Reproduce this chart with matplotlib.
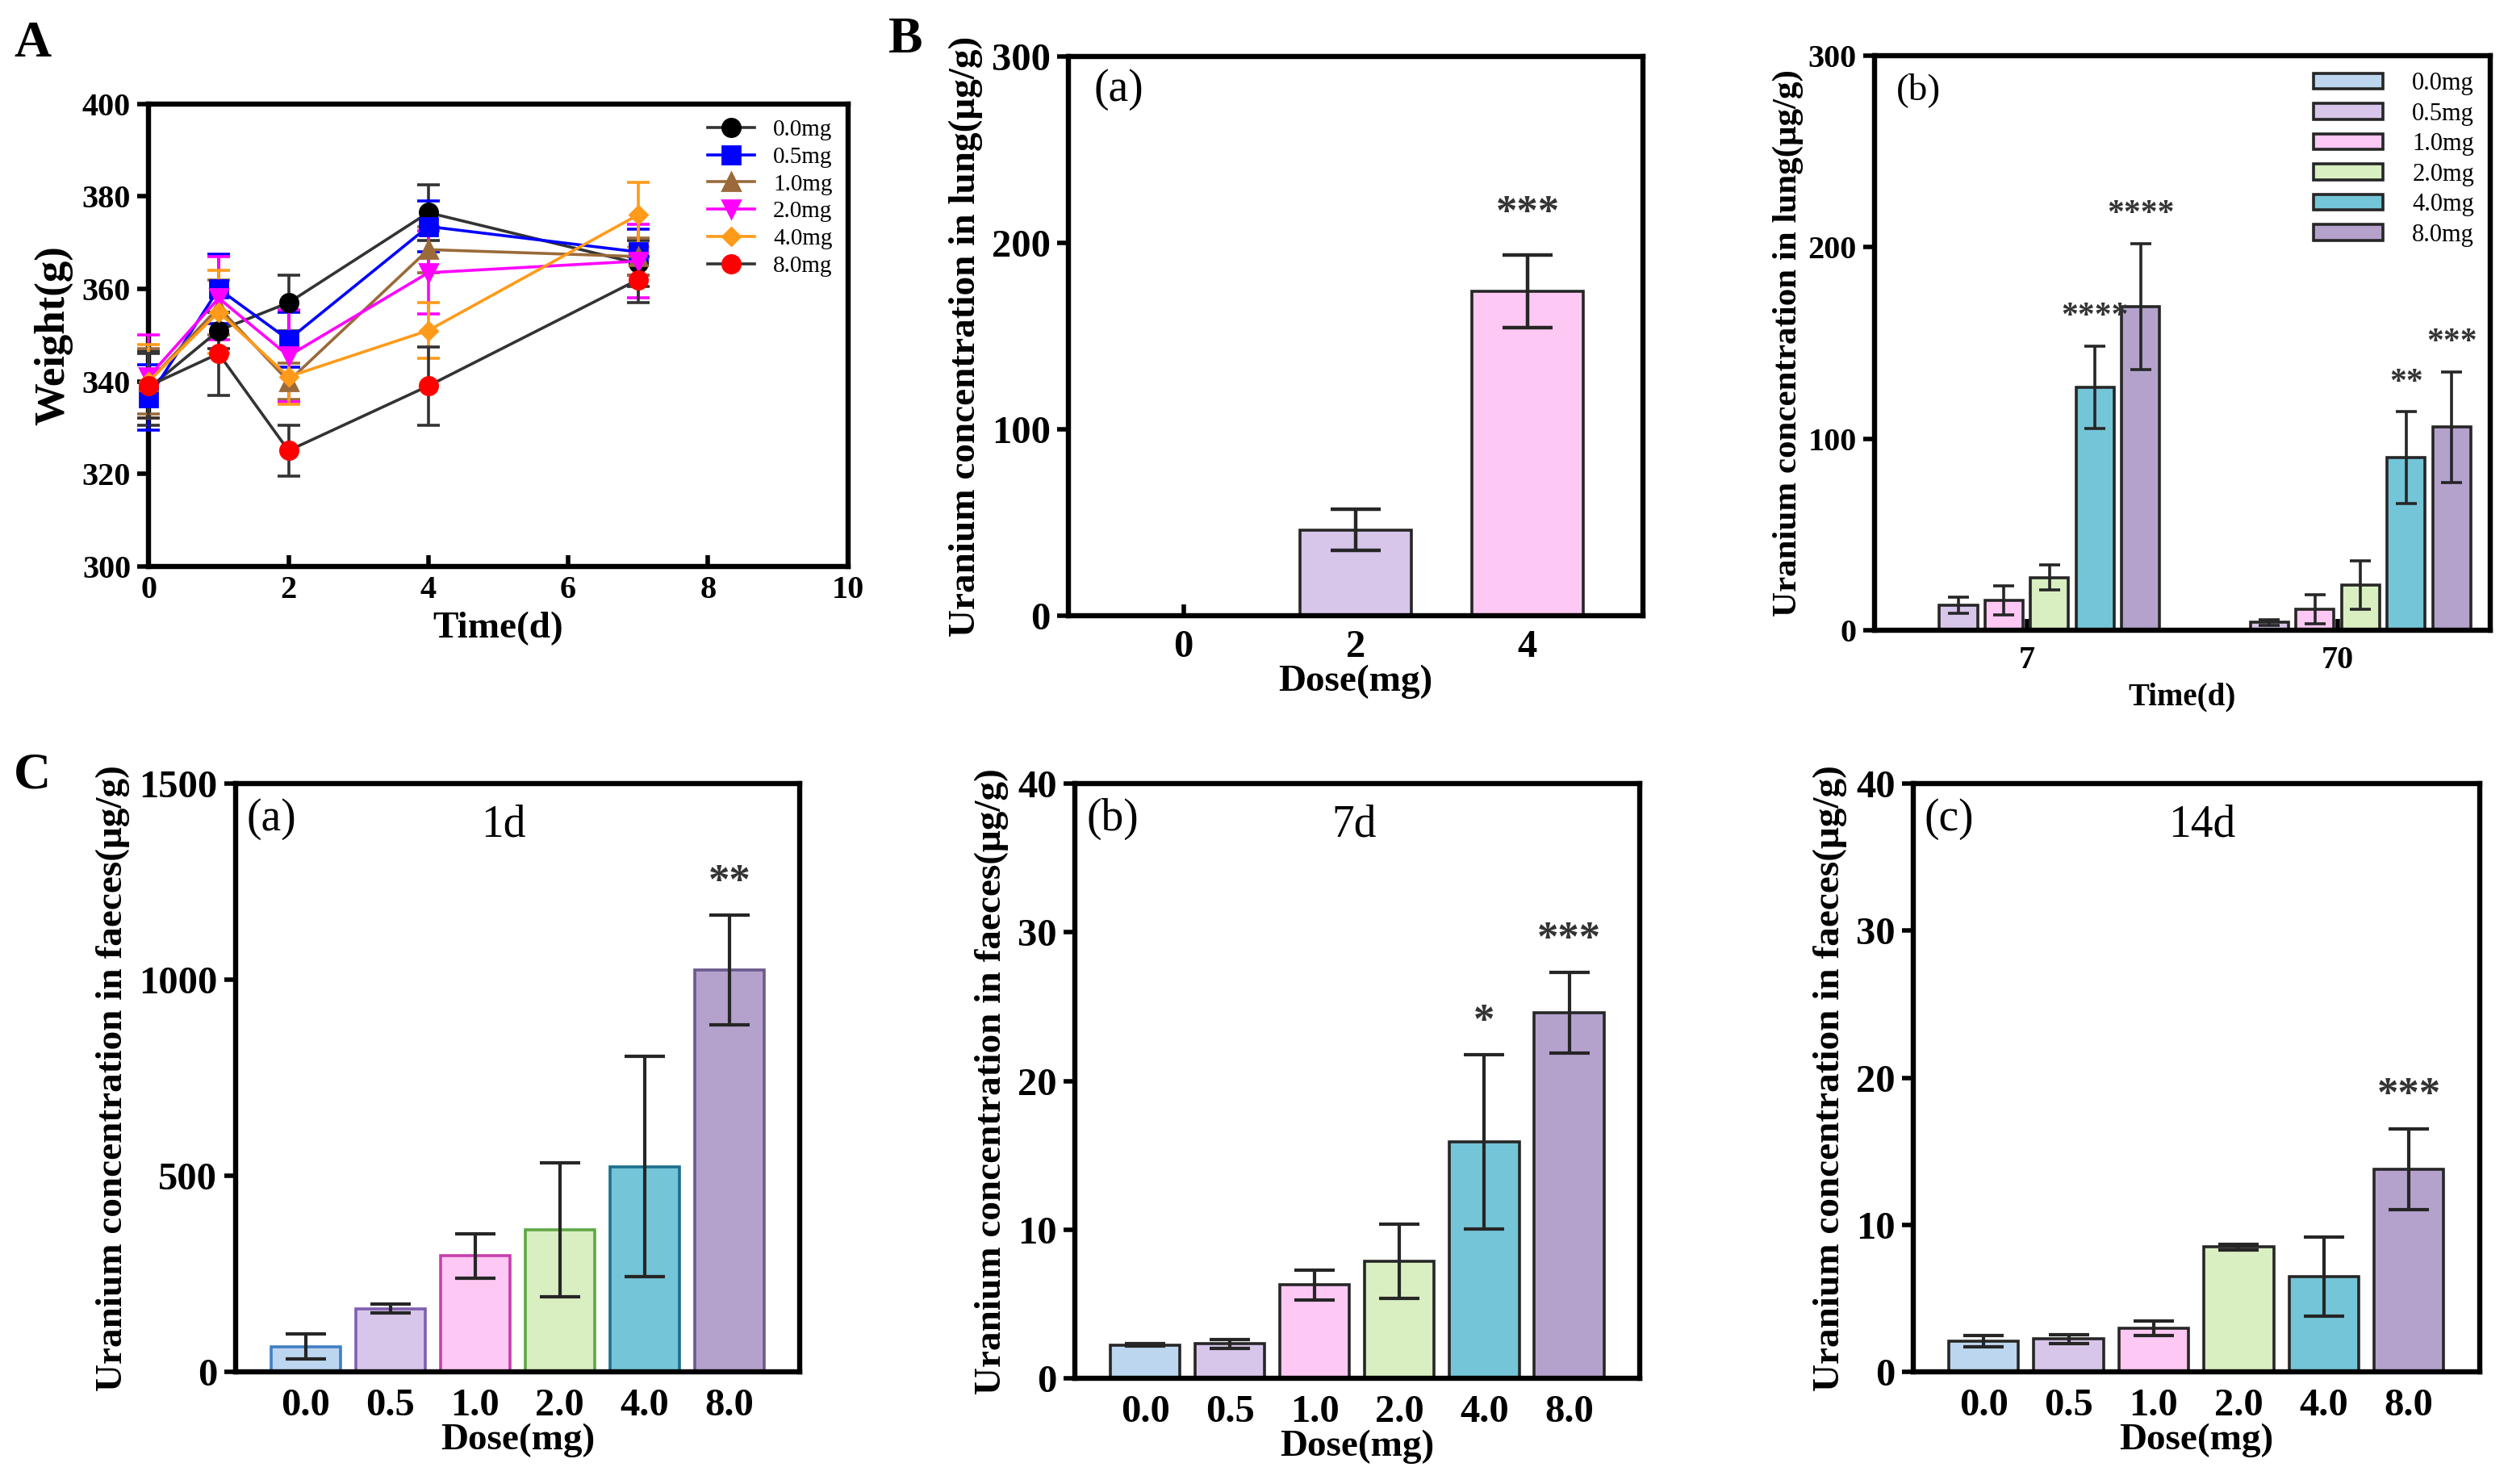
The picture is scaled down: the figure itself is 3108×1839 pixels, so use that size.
import matplotlib
matplotlib.use("Agg")
import matplotlib.pyplot as plt
import numpy as np
from matplotlib.patches import Patch
from matplotlib.lines import Line2D

plt.rcParams['font.family'] = ['Liberation Serif', 'DejaVu Serif']
plt.rcParams['mathtext.fontset'] = 'stix'

# ---------------- data ----------------
# Panel A: body weight
time_days = [0, 1, 2, 4, 7]
dose_labels = ['0.0mg', '0.5mg', '1.0mg', '2.0mg', '4.0mg', '8.0mg']
w_00 = [338.5, 351.0, 357.0, 376.5, 365.5]
e_00 = [8.0, 4.0, 6.0, 6.0, 5.0]
w_05 = [336.5, 360.0, 349.0, 373.5, 368.0]
e_05 = [7.0, 7.5, 6.0, 5.5, 5.0]
w_10 = [340.0, 356.0, 340.0, 368.5, 367.0]
e_10 = [7.0, 6.0, 4.0, 5.0, 4.0]
w_20 = [341.0, 358.0, 345.5, 363.5, 366.0]
e_20 = [9.0, 9.0, 10.0, 9.0, 8.0]
w_40 = [340.0, 355.0, 341.0, 351.0, 376.0]
e_40 = [8.0, 9.0, 6.0, 6.0, 7.0]
w_80 = [339.0, 346.0, 325.0, 339.0, 362.0]
e_80 = [7.0, 9.0, 5.5, 8.5, 5.0]

# Panel B(a): lung uranium vs dose
ba_doses = ['0', '2', '4']
ba_vals = [0.0, 46.0, 174.0]
ba_errs = [0.0, 11.0, 19.5]
ba_sig = ['', '', '***']

# Panel B(b): lung uranium vs time, grouped by dose
bb_times = ['7', '70']
bb_vals = {
    '0.0mg': [0.0, 0.0],
    '0.5mg': [12.9, 4.1],
    '1.0mg': [15.5, 10.9],
    '2.0mg': [27.4, 23.5],
    '4.0mg': [127.0, 90.0],
    '8.0mg': [169.0, 106.0],
}
bb_errs = {
    '0.0mg': [0.0, 0.0],
    '0.5mg': [4.2, 1.5],
    '1.0mg': [7.5, 7.5],
    '2.0mg': [6.5, 12.8],
    '4.0mg': [21.5, 24.0],
    '8.0mg': [33.0, 29.0],
}
bb_sig = {
    '4.0mg': ['****', '**'],
    '8.0mg': ['****', '***'],
}

# Panel C: faeces uranium
c_doses = ['0.0', '0.5', '1.0', '2.0', '4.0', '8.0']
c1_vals = [65.0, 162.0, 296.0, 362.0, 524.0, 1025.0]
c1_errs = [32.0, 11.0, 57.0, 171.0, 280.0, 140.0]
c1_sig = ['', '', '', '', '', '**']
c7_vals = [2.26, 2.33, 6.3, 7.9, 15.9, 24.6]
c7_errs = [0.08, 0.3, 1.0, 2.5, 5.85, 2.7]
c7_sig = ['', '', '', '', '*', '***']
c14_vals = [2.1, 2.25, 2.97, 8.5, 6.5, 13.8]
c14_errs = [0.4, 0.3, 0.5, 0.2, 2.7, 2.75]
c14_sig = ['', '', '', '', '', '***']

# ---------------- styles ----------------
fills = ['#bcd6ef', '#d8c6ea', '#fdc8f3', '#d9efc2', '#74c5d8', '#b4a2cd']
c1_edges = ['#3f7fc4', '#7f5fb0', '#c63fae', '#5ea845', '#1d6f8c', '#6b5a8c']
dark = '#262626'

fig = plt.figure(figsize=(15.54, 9.195), dpi=200)

SPW = 2.3


def style_axes(ax, tickfs, xpad=5, ypad=3):
    for s in ax.spines.values():
        s.set_linewidth(SPW)
        s.set_color('black')
    ax.tick_params(axis='y', direction='out', length=5, width=2.0, labelsize=tickfs, pad=ypad)
    ax.tick_params(axis='x', direction='in', length=5, width=2.0, labelsize=tickfs, pad=xpad)
    for lab in ax.get_xticklabels() + ax.get_yticklabels():
        lab.set_fontweight('bold')


# ---------------- Panel A ----------------
axA = fig.add_axes([0.0593, 0.6185, 0.2787, 0.3114])
seriesA = [
    (w_00, e_00, 'o', '#000000', '#333333', '#333333'),
    (w_05, e_05, 's', '#0000ff', '#0000ff', '#0000ff'),
    (w_10, e_10, '^', '#9a6a3a', '#9a6a3a', '#9a6a3a'),
    (w_20, e_20, 'v', '#ff00ff', '#ff00ff', '#ff00ff'),
    (w_40, e_40, 'D', '#ff9a1a', '#ff9a1a', '#ff9a1a'),
    (w_80, e_80, 'o', '#ff0000', '#333333', '#333333'),
]
legA_handles = []
for (w, e, mk, mcol, lcol, ecol), lab in zip(seriesA, dose_labels):
    ms = 8 if mk != 'D' else 5.5
    axA.errorbar(time_days, w, yerr=e, fmt='-', color=lcol, ecolor=ecol,
                 elinewidth=1.3, capsize=5, capthick=1.3, lw=1.3,
                 marker=mk, ms=ms, mfc=mcol, mec=mcol, clip_on=False, zorder=3)
    legA_handles.append(Line2D([0], [0], color=lcol, lw=1.3, marker=mk, ms=ms,
                               mfc=mcol, mec=mcol, label=lab))
axA.set_xlim(0, 10)
axA.set_ylim(300, 400)
axA.set_xticks([0, 2, 4, 6, 8, 10])
axA.set_yticks([300, 320, 340, 360, 380, 400])
style_axes(axA, 14.5, xpad=4)
axA.set_xlabel('Time(d)', fontsize=17, fontweight='bold', labelpad=3)
axA.set_ylabel('Weight(g)', fontsize=19, fontweight='bold', labelpad=4)
axA.legend(handles=legA_handles, loc='upper right', bbox_to_anchor=(1.0, 1.0), frameon=False,
           fontsize=10.5, handlelength=2.0, labelspacing=0.25, borderaxespad=0.25,
           handletextpad=0.8)

# ---------------- Panel B(a) ----------------
axBa = fig.add_axes([0.426, 0.585, 0.229, 0.377])
xba = np.arange(len(ba_doses))
ba_colors = ['#ffffff', fills[1], fills[2]]
for i in range(len(ba_doses)):
    if ba_vals[i] > 0:
        axBa.bar(xba[i], ba_vals[i], width=0.65, color=ba_colors[i], edgecolor=dark,
                 linewidth=1.3, zorder=2)
        axBa.errorbar(xba[i], ba_vals[i], yerr=ba_errs[i], fmt='none', ecolor=dark,
                      elinewidth=1.6, capsize=11, capthick=1.6, zorder=3)
    if ba_sig[i]:
        axBa.text(xba[i], ba_vals[i] + ba_errs[i] + 22, ba_sig[i], ha='center', va='center',
                  fontsize=19, fontweight='bold', color='#333333')
axBa.set_xlim(-0.67, 2.67)
axBa.set_ylim(0, 300)
axBa.set_xticks(xba)
axBa.set_xticklabels(ba_doses)
axBa.set_yticks([0, 100, 200, 300])
style_axes(axBa, 17.5, xpad=6)
axBa.set_xlabel('Dose(mg)', fontsize=17, fontweight='bold', labelpad=0)
axBa.set_ylabel('Uranium concentration in lung(μg/g)', fontsize=17, fontweight='bold', labelpad=4)
axBa.text(0.044, 0.94, '(a)', transform=axBa.transAxes, fontsize=20, ha='left', va='center')

# ---------------- Panel B(b) ----------------
axBb = fig.add_axes([0.7474, 0.5754, 0.2455, 0.3869])
xbb = np.arange(len(bb_times))
step = 0.1466
bw = 0.122
handles = []
for j, lab in enumerate(dose_labels):
    pos = xbb + (j - 2.5) * step
    vals = bb_vals[lab]
    errs = bb_errs[lab]
    axBb.bar(pos, vals, width=bw, color=fills[j], edgecolor=dark, linewidth=1.3, zorder=2)
    for k in range(len(pos)):
        if errs[k] > 0:
            axBb.errorbar(pos[k], vals[k], yerr=errs[k], fmt='none', ecolor=dark,
                          elinewidth=1.3, capsize=4.7, capthick=1.3, zorder=3)
    if lab in bb_sig:
        for k in range(len(pos)):
            axBb.text(pos[k], vals[k] + errs[k] + 15, bb_sig[lab][k], ha='center', va='center',
                      fontsize=15, fontweight='bold', color='#333333')
    handles.append(Patch(facecolor=fills[j], edgecolor=dark, linewidth=1.3, label=lab))
axBb.set_xlim(-0.49, 1.49)
axBb.set_ylim(0, 300)
axBb.set_xticks(xbb)
axBb.set_xticklabels(bb_times)
axBb.set_yticks([0, 100, 200, 300])
style_axes(axBb, 14.5, xpad=7)
axBb.set_xlabel('Time(d)', fontsize=14, fontweight='bold', labelpad=3)
axBb.set_ylabel('Uranium concentration in lung(μg/g)', fontsize=15.5, fontweight='bold', labelpad=2)
axBb.text(0.035, 0.94, '(b)', transform=axBb.transAxes, fontsize=17, ha='left', va='center')
axBb.legend(handles=handles, loc='upper right', bbox_to_anchor=(1.0, 1.0), frameon=False,
            fontsize=11, handlelength=2.8, handleheight=0.6, labelspacing=0.28,
            handletextpad=1.2, borderaxespad=0.25)


# ---------------- Panel C ----------------
def c_panel(rect, vals, errs, sig, ylim, yticks, tag, title, title_x, edges, cap):
    ax = fig.add_axes(rect)
    x = np.arange(len(c_doses))
    for i in range(len(x)):
        ax.bar(x[i], vals[i], width=0.82, color=fills[i], edgecolor=edges[i], linewidth=1.3, zorder=2)
        ax.errorbar(x[i], vals[i], yerr=errs[i], fmt='none', ecolor=dark,
                    elinewidth=1.5, capsize=cap, capthick=1.5, zorder=3)
        if sig[i]:
            ax.text(x[i], vals[i] + errs[i] + 0.055 * ylim, sig[i], ha='center', va='center',
                    fontsize=19, fontweight='bold', color='#333333')
    ax.set_xlim(-0.83, 5.83)
    ax.set_ylim(0, ylim)
    ax.set_xticks(x)
    ax.set_xticklabels(c_doses)
    ax.set_yticks(yticks)
    style_axes(ax, 17.5, xpad=7)
    ax.set_xlabel('Dose(mg)', fontsize=17, fontweight='bold', labelpad=0)
    ax.set_ylabel('Uranium concentration in faeces(μg/g)', fontsize=17, fontweight='bold', labelpad=4)
    ax.text(0.02, 0.94, tag, transform=ax.transAxes, fontsize=20, ha='left', va='center')
    ax.text(title_x, 0.93, title, transform=ax.transAxes, fontsize=20, ha='center', va='center')
    return ax


c_panel([0.0938, 0.0754, 0.2251, 0.3966], c1_vals, c1_errs, c1_sig, 1500,
        [0, 500, 1000, 1500], '(a)', '1d', 0.475, c1_edges, 9)
c_panel([0.4286, 0.0711, 0.2251, 0.4009], c7_vals, c7_errs, c7_sig, 40,
        [0, 10, 20, 30, 40], '(b)', '7d', 0.495, [dark] * 6, 9)
c_panel([0.7628, 0.0754, 0.2258, 0.3966], c14_vals, c14_errs, c14_sig, 40,
        [0, 10, 20, 30, 40], '(c)', '14d', 0.51, [dark] * 6, 9)

# panel letters
fig.text(0.013, 0.970, 'A', fontsize=23, fontweight='bold', ha='center', va='center')
fig.text(0.361, 0.973, 'B', fontsize=23, fontweight='bold', ha='center', va='center')
fig.text(0.013, 0.477, 'C', fontsize=23, fontweight='bold', ha='center', va='center')

fig.savefig('out.png', dpi=200)
